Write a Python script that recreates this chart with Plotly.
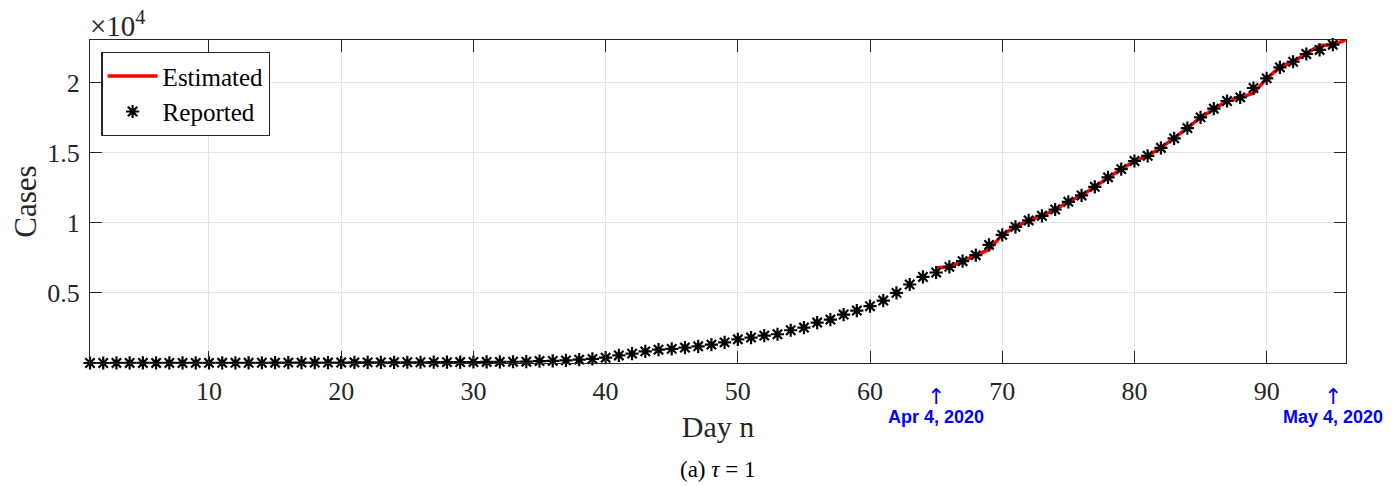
import plotly.graph_objects as go

# ---------------- data ----------------
reported_days = list(range(1, 96))
reported_cases = [
    1, 1, 2, 2, 3, 3, 5, 6, 8, 10, 12, 14, 16, 18, 21, 24, 27, 30, 33, 36,
    40, 43, 46, 49, 52, 55, 58, 62, 66, 70, 75, 80, 88,
    95, 140, 150, 190, 240, 290, 380, 540, 670, 830, 950, 1010, 1100, 1190,
    1310, 1470, 1690, 1815, 1955, 2050, 2335, 2530, 2885, 3100, 3455, 3740,
    4050, 4455, 5000, 5600, 6140, 6455, 6855, 7260, 7690, 8425, 9140, 9710,
    10170, 10500, 10950, 11500, 11950, 12570, 13240, 13830, 14410, 14780,
    15350, 16020, 16760, 17520, 18140, 18690, 18950, 19615, 20305, 21090,
    21490, 22040, 22330, 22705,
]

estimated_days = list(range(65, 97))
estimated_cases = [
    6800, 6855, 7260, 7690, 8100, 9140, 9710, 10170, 10500, 10950, 11500,
    11950, 12570, 13240, 13830, 14400, 14780, 15350, 16020, 16760, 17520,
    18140, 18690, 18950, 19235, 20300, 21090, 21490, 22040, 22650, 22700,
    23040,
]

x_ticks = [10, 20, 30, 40, 50, 60, 70, 80, 90]
y_ticks = [5000, 10000, 15000, 20000]
y_tick_labels = ["0.5", "1", "1.5", "2"]

date_marks_day = [65, 95]
date_marks_text = ["Apr 4, 2020", "May 4, 2020"]

# ---------------- figure ----------------
AX = "#262626"
SERIF = "Liberation Serif"

fig = go.Figure()
fig.add_trace(go.Scatter(
    x=estimated_days, y=estimated_cases, mode="lines", name="Estimated",
    line=dict(color="red", width=3.5),
))
fig.add_trace(go.Scatter(
    x=reported_days, y=reported_cases, mode="markers", name="Reported",
    marker=dict(symbol="asterisk-open", size=11, color="black",
                line=dict(color="black", width=2.2)),
    cliponaxis=False,
))

# page body has an 8px margin: shrink the figure so the plot area lands
# where it sits in the reference
fig.update_layout(
    width=1389, height=478,
    margin=dict(l=82, r=51, t=32, b=123, autoexpand=False),
    paper_bgcolor="white", plot_bgcolor="white",
    font=dict(family=SERIF, size=26, color=AX),
    showlegend=True,
    legend=dict(
        x=0.009, y=0.963, xanchor="left", yanchor="top",
        bgcolor="white", bordercolor=AX, borderwidth=1.3,
        font=dict(family=SERIF, size=25, color="black"),
        tracegroupgap=0, itemwidth=50,
    ),
)

fig.update_xaxes(
    range=[1, 96], tickvals=x_ticks, ticks="inside", ticklen=12,
    tickwidth=1.3, tickcolor=AX, showline=True, linecolor=AX, linewidth=1.3,
    mirror="ticks", showgrid=True, gridcolor="#e3e3e3", gridwidth=1.3,
    zeroline=False, tickfont=dict(family=SERIF, size=26, color=AX),
    ticklabelstandoff=5, automargin=False,
    title=dict(text="Day n", font=dict(family=SERIF, size=30, color=AX),
               standoff=10),
)
fig.update_yaxes(
    range=[0, 23040], tickvals=y_ticks, ticktext=y_tick_labels,
    ticks="inside", ticklen=12, tickwidth=1.3, tickcolor=AX,
    showline=True, linecolor=AX, linewidth=1.3, mirror="ticks",
    showgrid=True, gridcolor="#e3e3e3", gridwidth=1.3, zeroline=False,
    tickfont=dict(family=SERIF, size=26, color=AX), ticklabelstandoff=4,
    automargin=False,
    title=dict(text="Cases", font=dict(family=SERIF, size=31, color=AX),
               standoff=14),
)

# exponent label
fig.add_annotation(
    x=0, y=1, xref="paper", yref="paper", xanchor="left", yanchor="middle",
    text="×10<sup>4</sup>", showarrow=False, yshift=16, xshift=-2,
    font=dict(family=SERIF, size=29, color=AX),
)

# date markers
for d, t in zip(date_marks_day, date_marks_text):
    fig.add_annotation(
        x=d, y=0, xref="x", yref="paper", text="↑", showarrow=False,
        yanchor="middle", yshift=-33,
        font=dict(family="DejaVu Sans", size=22, color="blue"),
    )
    fig.add_annotation(
        x=d, y=0, xref="x", yref="paper", text="<b>" + t + "</b>",
        showarrow=False, yanchor="middle", yshift=-54,
        font=dict(family="Liberation Sans", size=18, color="blue"),
    )

# caption
fig.add_annotation(
    x=0.5, y=0, xref="paper", yref="paper", xanchor="center",
    yanchor="middle", yshift=-106, showarrow=False,
    text="(a) <i>τ</i>\u00a0=\u00a01",
    font=dict(family=SERIF, size=23, color="black"),
)

fig.write_html("out.html")
